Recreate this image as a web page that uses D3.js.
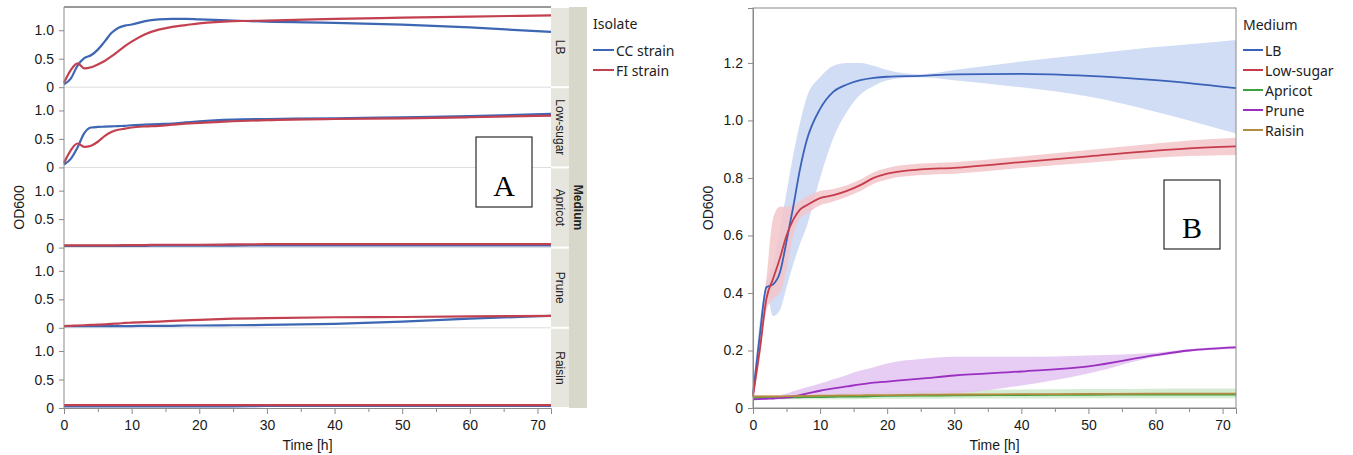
<!DOCTYPE html>
<html>
<head>
<meta charset="utf-8">
<script src="https://cdn.jsdelivr.net/npm/d3@7"></script>
<style>
  body { margin: 0; background: #fff; }
  svg { display: block; }
  .tick text { font-family: "Liberation Sans", Arial, sans-serif; font-size: 14px; fill: #1a1a1a; }
  .axis path, .axis line { stroke: #8a8a8a; }
</style>
</head>
<body>
<svg width="1353" height="455"></svg>
<script>
// ---- panel A data: OD600 per medium, two isolates ----
const timeA = [0, 1, 2, 3, 4, 5, 6, 7, 8, 9, 10, 12, 14, 16, 18, 20, 25, 30, 40, 50, 60, 72];
const mediaA = ["LB", "Low-sugar", "Apricot", "Prune", "Raisin"];
const ccStrain = {
  "LB":        [0.05, 0.15, 0.38, 0.51, 0.56, 0.66, 0.8, 0.95, 1.04, 1.08, 1.1, 1.16, 1.19, 1.2, 1.2, 1.19, 1.17, 1.15, 1.13, 1.1, 1.05, 0.97],
  "Low-sugar": [0.05, 0.15, 0.35, 0.6, 0.7, 0.71, 0.715, 0.72, 0.725, 0.73, 0.74, 0.75, 0.76, 0.77, 0.79, 0.81, 0.84, 0.85, 0.86, 0.88, 0.9, 0.94],
  "Apricot":   [0.03, 0.03, 0.03, 0.03, 0.03, 0.03, 0.03, 0.03, 0.03, 0.03, 0.03, 0.03, 0.035, 0.035, 0.035, 0.035, 0.035, 0.04, 0.04, 0.04, 0.04, 0.04],
  "Prune":     [0.03, 0.03, 0.03, 0.03, 0.03, 0.03, 0.03, 0.03, 0.03, 0.03, 0.03, 0.035, 0.035, 0.035, 0.04, 0.04, 0.045, 0.05, 0.07, 0.11, 0.16, 0.21],
  "Raisin":    [0.03, 0.03, 0.03, 0.03, 0.03, 0.03, 0.03, 0.03, 0.03, 0.03, 0.03, 0.03, 0.03, 0.03, 0.03, 0.03, 0.03, 0.035, 0.035, 0.035, 0.035, 0.035]
};
const fiStrain = {
  "LB":        [0.08, 0.3, 0.42, 0.33, 0.35, 0.4, 0.46, 0.54, 0.63, 0.72, 0.8, 0.93, 1.01, 1.06, 1.09, 1.12, 1.16, 1.17, 1.2, 1.22, 1.24, 1.26],
  "Low-sugar": [0.08, 0.3, 0.42, 0.36, 0.38, 0.45, 0.55, 0.62, 0.66, 0.68, 0.7, 0.72, 0.73, 0.75, 0.77, 0.78, 0.81, 0.83, 0.85, 0.86, 0.88, 0.91],
  "Apricot":   [0.04, 0.04, 0.04, 0.04, 0.04, 0.04, 0.04, 0.04, 0.04, 0.045, 0.045, 0.045, 0.05, 0.05, 0.05, 0.05, 0.055, 0.06, 0.06, 0.06, 0.06, 0.06],
  "Prune":     [0.03, 0.035, 0.04, 0.045, 0.05, 0.055, 0.06, 0.07, 0.075, 0.085, 0.09, 0.1, 0.11, 0.12, 0.13, 0.14, 0.16, 0.17, 0.185, 0.19, 0.2, 0.21],
  "Raisin":    [0.05, 0.05, 0.05, 0.05, 0.05, 0.05, 0.05, 0.05, 0.05, 0.05, 0.05, 0.05, 0.05, 0.05, 0.05, 0.05, 0.05, 0.05, 0.05, 0.05, 0.05, 0.05]
};
const isolates = ["CC strain", "FI strain"];
const ticksA = [0, 0.5, 1.0];

// ---- panel B data: mean and band per medium ----
const timeB = [0, 1, 2, 3, 4, 5, 6, 7, 8, 10, 12, 14, 16, 18, 20, 25, 30, 40, 50, 60, 65, 72];
const mediaB = ["LB", "Low-sugar", "Apricot", "Prune", "Raisin"];
const meanB = {
  "LB":        [0.05, 0.25, 0.42, 0.43, 0.47, 0.58, 0.7, 0.83, 0.93, 1.04, 1.1, 1.125, 1.14, 1.148, 1.152, 1.155, 1.16, 1.162, 1.155, 1.14, 1.13, 1.112],
  "Low-sugar": [0.04, 0.2, 0.38, 0.45, 0.52, 0.6, 0.655, 0.69, 0.705, 0.73, 0.74, 0.755, 0.775, 0.8, 0.815, 0.83, 0.835, 0.855, 0.875, 0.895, 0.903, 0.91],
  "Apricot":   [0.035, 0.035, 0.035, 0.035, 0.036, 0.036, 0.037, 0.037, 0.038, 0.038, 0.039, 0.04, 0.04, 0.041, 0.042, 0.043, 0.044, 0.045, 0.046, 0.047, 0.047, 0.047],
  "Prune":     [0.03, 0.031, 0.032, 0.033, 0.035, 0.037, 0.04, 0.045, 0.05, 0.06, 0.068, 0.075, 0.082, 0.088, 0.092, 0.102, 0.113, 0.127, 0.145, 0.184, 0.2, 0.211],
  "Raisin":    [0.04, 0.04, 0.04, 0.04, 0.04, 0.041, 0.041, 0.042, 0.042, 0.043, 0.043, 0.044, 0.044, 0.045, 0.045, 0.046, 0.047, 0.048, 0.049, 0.05, 0.05, 0.05]
};
const lowerB = {
  "LB":        [0.04, 0.2, 0.4, 0.32, 0.34, 0.42, 0.5, 0.57, 0.63, 0.8, 0.94, 1.03, 1.09, 1.12, 1.14, 1.15, 1.14, 1.115, 1.083, 1.03, 1.0, 0.955],
  "Low-sugar": [0.03, 0.17, 0.34, 0.38, 0.4, 0.48, 0.6, 0.66, 0.675, 0.705, 0.718, 0.735, 0.755, 0.78, 0.795, 0.81, 0.815, 0.835, 0.853, 0.87, 0.876, 0.88],
  "Apricot":   [0.03, 0.03, 0.03, 0.03, 0.03, 0.03, 0.03, 0.03, 0.03, 0.03, 0.03, 0.03, 0.031, 0.031, 0.032, 0.032, 0.033, 0.033, 0.034, 0.034, 0.034, 0.034],
  "Prune":     [0.028, 0.029, 0.03, 0.03, 0.03, 0.031, 0.032, 0.033, 0.034, 0.035, 0.036, 0.038, 0.039, 0.04, 0.041, 0.045, 0.05, 0.078, 0.12, 0.178, 0.196, 0.205],
  "Raisin":    [0.036, 0.036, 0.036, 0.036, 0.036, 0.037, 0.037, 0.038, 0.038, 0.039, 0.039, 0.04, 0.04, 0.041, 0.041, 0.042, 0.043, 0.044, 0.045, 0.046, 0.046, 0.046]
};
const upperB = {
  "LB":        [0.06, 0.3, 0.44, 0.5, 0.62, 0.75, 0.88, 0.99, 1.08, 1.15, 1.19, 1.2, 1.2, 1.19, 1.175, 1.16, 1.175, 1.205, 1.23, 1.255, 1.265, 1.28],
  "Low-sugar": [0.05, 0.23, 0.45, 0.66, 0.7, 0.7, 0.705, 0.72, 0.735, 0.755, 0.762, 0.775, 0.795, 0.82, 0.835, 0.85, 0.855, 0.875, 0.897, 0.92, 0.93, 0.94],
  "Apricot":   [0.04, 0.04, 0.04, 0.041, 0.042, 0.043, 0.044, 0.045, 0.046, 0.048, 0.05, 0.052, 0.054, 0.056, 0.058, 0.06, 0.062, 0.064, 0.066, 0.067, 0.068, 0.068],
  "Prune":     [0.032, 0.034, 0.037, 0.04, 0.045, 0.05, 0.058, 0.065, 0.072, 0.085, 0.1, 0.115, 0.13, 0.142, 0.155, 0.17, 0.178, 0.178, 0.183, 0.192, 0.205, 0.216],
  "Raisin":    [0.044, 0.044, 0.044, 0.044, 0.044, 0.045, 0.045, 0.046, 0.046, 0.047, 0.047, 0.048, 0.048, 0.049, 0.049, 0.05, 0.051, 0.052, 0.053, 0.054, 0.054, 0.054]
};
const ticksB = [0, 0.2, 0.4, 0.6, 0.8, 1.0, 1.2];
const timeTicks = [0, 10, 20, 30, 40, 50, 60, 70];

const isoColor = { "CC strain": "#3d66b3", "FI strain": "#c2404f" };
const medColor = { "LB": "#3a62b8", "Low-sugar": "#c63c4a", "Apricot": "#3ea23c", "Prune": "#9b2fc2", "Raisin": "#b38c44" };
const bandColor = { "LB": "#c9d6f3", "Low-sugar": "#f3c6ca", "Apricot": "#cde9c9", "Prune": "#e3c4f2", "Raisin": "#eadcc0" };

const svg = d3.select("svg");
const fmt = d => d === 0 ? "0" : d3.format(".1f")(d);
const font = "'Liberation Sans', Arial, sans-serif";
const legendFont = "'Noto Sans', 'Open Sans', sans-serif";

// ================= Panel A =================
const A = { left: 64, right: 551, top: 7, bottom: 408 };
const xA = d3.scaleLinear().domain([0, 72]).range([A.left, A.right]);
const facetH = (A.bottom - A.top) / mediaA.length;
const gA = svg.append("g");

// facet separators
mediaA.forEach((m, i) => {
  const y0 = A.top + facetH * (i + 1);
  if (i < mediaA.length - 1) {
    gA.append("line").attr("x1", A.left).attr("x2", A.right)
      .attr("y1", y0).attr("y2", y0).attr("stroke", "#dcdcdc");
  }
});
gA.append("line").attr("x1", A.left).attr("x2", A.right)
  .attr("y1", A.top).attr("y2", A.top).attr("stroke", "#777").attr("stroke-width", 1.5);

mediaA.forEach((m, i) => {
  const top = A.top + facetH * i, bot = top + facetH;
  const y = d3.scaleLinear().domain([0, 1.408]).range([bot, top]);
  const line = d3.line().x((d, j) => xA(timeA[j])).y(d => y(d)).curve(d3.curveMonotoneX);
  [ccStrain, fiStrain].forEach((s, k) => {
    gA.append("path").datum(s[m]).attr("fill", "none")
      .attr("stroke", isoColor[isolates[k]]).attr("stroke-width", 2.2)
      .attr("d", line);
  });
  gA.append("g").attr("class", "axis").attr("transform", `translate(${A.left},0)`)
    .call(d3.axisLeft(y).tickValues(ticksA).tickFormat(fmt).tickSizeOuter(0).tickSize(5).tickPadding(5))
    .call(g => g.select(".domain").remove());
});
gA.append("line").attr("x1", A.left).attr("x2", A.left).attr("y1", A.top).attr("y2", A.bottom).attr("stroke", "#8a8a8a");

gA.append("g").attr("class", "axis").attr("transform", `translate(0,${A.bottom})`)
  .call(d3.axisBottom(xA).tickValues(timeTicks).tickSizeOuter(0).tickSize(6).tickPadding(6));
gA.append("g").attr("class", "axis").attr("transform", `translate(0,${A.bottom})`)
  .call(d3.axisBottom(xA).tickValues([5, 15, 25, 35, 45, 55, 65]).tickFormat("").tickSize(4).tickSizeOuter(0))
  .call(g => g.select(".domain").remove());

// strips
mediaA.forEach((m, i) => {
  const top = A.top + facetH * i;
  gA.append("rect").attr("x", A.right).attr("y", top + 1).attr("width", 18).attr("height", facetH - 2)
    .attr("fill", "#e6e6df");
  gA.append("text").attr("transform", `translate(${A.right + 9},${top + facetH / 2}) rotate(90)`)
    .attr("text-anchor", "middle").attr("dominant-baseline", "central")
    .attr("font-family", font).attr("font-size", 12).attr("fill", "#222").text(m);
});
gA.append("rect").attr("x", A.right + 18).attr("y", A.top).attr("width", 18).attr("height", A.bottom - A.top)
  .attr("fill", "#d8d8ca");
gA.append("text").attr("transform", `translate(${A.right + 27},${(A.top + A.bottom) / 2}) rotate(90)`)
  .attr("text-anchor", "middle").attr("dominant-baseline", "central")
  .attr("font-family", font).attr("font-size", 12).attr("font-weight", "bold").attr("fill", "#222").text("Medium");

gA.append("text").attr("transform", `translate(19,${(A.top + A.bottom) / 2}) rotate(-90)`)
  .attr("text-anchor", "middle").attr("dominant-baseline", "central")
  .attr("font-family", font).attr("font-size", 14).attr("fill", "#1a1a1a").text("OD600");
gA.append("text").attr("x", (A.left + A.right) / 2).attr("y", 450).attr("text-anchor", "middle")
  .attr("font-family", font).attr("font-size", 14).attr("fill", "#1a1a1a").text("Time [h]");

// legend A
const legA = svg.append("g").attr("transform", "translate(593,0)");
legA.append("text").attr("x", 0).attr("y", 29).attr("font-family", legendFont).attr("font-size", 14)
  .attr("fill", "#222").text("Isolate");
isolates.forEach((s, i) => {
  const y = 50 + i * 20;
  legA.append("line").attr("x1", 0).attr("x2", 21).attr("y1", y).attr("y2", y)
    .attr("stroke", isoColor[s]).attr("stroke-width", 2);
  legA.append("text").attr("x", 23).attr("y", y).attr("dominant-baseline", "central")
    .attr("font-family", legendFont).attr("font-size", 14).attr("fill", "#222").text(s);
});

// box A
svg.append("rect").attr("x", 476).attr("y", 137).attr("width", 56).attr("height", 70)
  .attr("fill", "#fff").attr("stroke", "#000");
svg.append("text").attr("x", 504).attr("y", 196).attr("text-anchor", "middle")
  .attr("font-family", "'Liberation Serif', 'Times New Roman', serif").attr("font-size", 30).text("A");

// ================= Panel B =================
const B = { left: 753, right: 1236, top: 8, bottom: 408 };
const xB = d3.scaleLinear().domain([0, 72]).range([B.left, B.right]);
const yB = d3.scaleLinear().domain([0, 1.391]).range([B.bottom, B.top]);
const gB = svg.append("g");

const area = m => d3.area().x((d, j) => xB(timeB[j]))
  .y0((d, j) => yB(lowerB[m][j])).y1((d, j) => yB(upperB[m][j])).curve(d3.curveMonotoneX);
const lineB = d3.line().x((d, j) => xB(timeB[j])).y(d => yB(d)).curve(d3.curveMonotoneX);

mediaB.forEach(m => {
  gB.append("path").datum(meanB[m]).attr("fill", bandColor[m]).attr("fill-opacity", 0.85).attr("d", area(m));
});
mediaB.forEach(m => {
  gB.append("path").datum(meanB[m]).attr("fill", "none").attr("stroke", medColor[m])
    .attr("stroke-width", 1.8).attr("d", lineB);
});

gB.append("rect").attr("x", B.left).attr("y", B.top).attr("width", B.right - B.left).attr("height", B.bottom - B.top)
  .attr("fill", "none").attr("stroke", "#8a8a8a");
gB.append("g").attr("class", "axis").attr("transform", `translate(${B.left},0)`)
  .call(d3.axisLeft(yB).tickValues(ticksB).tickFormat(fmt).tickSizeOuter(0).tickSize(5).tickPadding(5));
gB.append("g").attr("class", "axis").attr("transform", `translate(0,${B.bottom})`)
  .call(d3.axisBottom(xB).tickValues(timeTicks).tickSizeOuter(0).tickSize(6).tickPadding(6));
gB.append("g").attr("class", "axis").attr("transform", `translate(0,${B.bottom})`)
  .call(d3.axisBottom(xB).tickValues([5, 15, 25, 35, 45, 55, 65]).tickFormat("").tickSize(4).tickSizeOuter(0))
  .call(g => g.select(".domain").remove());

gB.append("text").attr("transform", `translate(708,${(B.top + B.bottom) / 2}) rotate(-90)`)
  .attr("text-anchor", "middle").attr("dominant-baseline", "central")
  .attr("font-family", font).attr("font-size", 14).attr("fill", "#1a1a1a").text("OD600");
gB.append("text").attr("x", (B.left + B.right) / 2).attr("y", 450).attr("text-anchor", "middle")
  .attr("font-family", font).attr("font-size", 14).attr("fill", "#1a1a1a").text("Time [h]");

// legend B
const legB = svg.append("g").attr("transform", "translate(1243,0)");
legB.append("text").attr("x", 0).attr("y", 30).attr("font-family", legendFont).attr("font-size", 14)
  .attr("fill", "#222").text("Medium");
mediaB.forEach((m, i) => {
  const y = 50 + i * 20;
  legB.append("line").attr("x1", 0).attr("x2", 20).attr("y1", y).attr("y2", y)
    .attr("stroke", medColor[m]).attr("stroke-width", 2);
  legB.append("text").attr("x", 22).attr("y", y).attr("dominant-baseline", "central")
    .attr("font-family", legendFont).attr("font-size", 14).attr("fill", "#222").text(m);
});

// box B
svg.append("rect").attr("x", 1164).attr("y", 180).attr("width", 56).attr("height", 69)
  .attr("fill", "#fff").attr("stroke", "#000");
svg.append("text").attr("x", 1192).attr("y", 238).attr("text-anchor", "middle")
  .attr("font-family", "'Liberation Serif', 'Times New Roman', serif").attr("font-size", 30).text("B");
</script>
</body>
</html>
